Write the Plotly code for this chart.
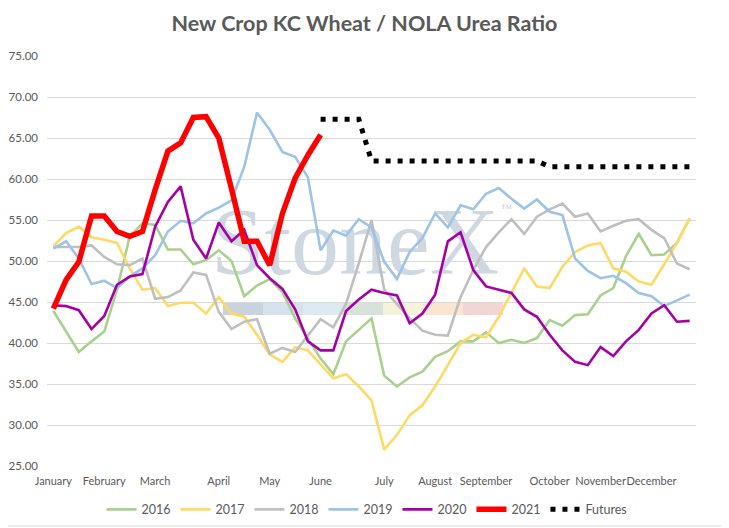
import plotly.graph_objects as go

# weekly points, Jan -> Dec (51 weeks)
months = ['January', 'February', 'March', 'April', 'May', 'June', 'July',
          'August', 'September', 'October', 'November', 'December']
month_week = [0, 4, 8, 13, 17, 21, 26, 30, 34, 39, 43, 47]

y2016 = [43.9, 41.4, 38.9, 40.2, 41.4, 46.5, 53.0, 54.6, 54.4, 51.4, 51.4, 49.6, 50.1, 51.3, 50.0,
         45.7, 47.0, 47.8, 46.2, 43.0, 40.5, 38.1, 36.2, 40.2, 41.6, 43.0, 36.0, 34.7, 35.8, 36.5,
         38.3, 39.0, 40.2, 40.2, 41.3, 40.0, 40.4, 40.0, 40.6, 42.8, 42.1, 43.4, 43.5, 45.8, 46.7,
         50.6, 53.3, 50.7, 50.8, 52.2, 55.2]
y2017 = [51.8, 53.4, 54.2, 52.9, 52.6, 52.2, 49.1, 46.5, 46.7, 44.5, 44.9, 44.9, 43.6, 45.6, 43.6,
         43.2, 41.0, 38.6, 37.7, 39.5, 39.1, 37.4, 35.7, 36.2, 34.7, 33.0, 27.0, 28.8, 31.2, 32.4,
         34.7, 37.3, 40.0, 41.0, 40.7, 43.2, 46.1, 49.1, 46.9, 46.7, 49.3, 51.1, 51.9, 52.2, 49.1,
         48.7, 47.5, 47.1, 49.6, 52.2, 55.2]
y2018 = [51.7, 51.7, 51.7, 51.9, 50.5, 49.6, 49.5, 50.3, 45.4, 45.6, 46.4, 48.6, 48.3, 43.8, 41.7,
         42.6, 42.9, 38.7, 39.4, 38.9, 40.9, 42.9, 41.9, 44.8, 49.7, 55.0, 46.5, 44.8, 43.0, 41.5,
         41.0, 40.9, 45.6, 48.9, 51.7, 53.5, 55.1, 53.3, 55.4, 56.3, 57.0, 55.4, 55.8, 53.6, 54.3,
         54.9, 55.1, 53.8, 52.8, 49.7, 49.0]
y2019 = [51.5, 52.4, 50.3, 47.2, 47.6, 46.7, 48.1, 49.1, 50.7, 53.6, 54.9, 54.6, 55.8, 56.5, 57.4,
         61.5, 68.1, 66.0, 63.3, 62.7, 60.2, 51.3, 53.7, 53.1, 55.1, 54.1, 49.9, 47.8, 51.1, 52.8,
         55.8, 54.1, 56.8, 56.3, 58.2, 58.9, 57.6, 56.4, 57.5, 56.0, 55.6, 50.3, 48.8, 47.9, 48.2,
         47.3, 46.1, 45.7, 44.5, 45.2, 45.9]
y2020 = [44.6, 44.5, 44.0, 41.7, 43.3, 47.1, 48.1, 48.4, 54.2, 57.2, 59.1, 52.6, 50.3, 54.7, 52.4,
         53.8, 49.5, 47.9, 46.6, 44.1, 40.2, 39.1, 39.1, 43.9, 45.3, 46.5, 46.1, 45.8, 42.4, 43.6,
         45.9, 52.4, 53.5, 48.9, 46.9, 46.5, 46.1, 44.1, 43.2, 41.0, 39.1, 37.7, 37.3, 39.5, 38.4,
         40.2, 41.6, 43.6, 44.6, 42.6, 42.7]
y2021 = [44.2, 47.7, 49.9, 55.5, 55.5, 53.6, 53.0, 53.6, 58.7, 63.4, 64.4, 67.5, 67.6, 65.0, 58.8,
         52.4, 52.4, 49.5, 55.8, 60.1, 62.9, 65.4]
futures_start = 21
futures = [67.3, 67.3, 67.3, 67.3, 62.2, 62.2, 62.2, 62.2, 62.2, 62.2, 62.2, 62.2, 62.2, 62.2,
           62.2, 62.2, 62.2, 62.2, 61.5, 61.5, 61.5, 61.5, 61.5, 61.5, 61.5, 61.5, 61.5, 61.5,
           61.5, 61.5]

series = [('2016', y2016, '#A9D18E'),
          ('2017', y2017, '#FFD966'),
          ('2018', y2018, '#BFBFBF'),
          ('2019', y2019, '#9DC3E6'),
          ('2020', y2020, '#A500A5')]

fig = go.Figure()

# StoneX watermark sits under the lines
fig.add_trace(go.Scatter(x=[23.7, 35.6], y=[51.3, 56.3], mode='text', text=['StoneX', '™'],
                         textfont=dict(family='Liberation Serif', size=[96, 11],
                                       color=['#CFD7E1', '#C4CDD8']),
                         showlegend=False, hoverinfo='skip'))

for name, ys, col in series:
    fig.add_trace(go.Scatter(x=list(range(len(ys))), y=ys, name=name, mode='lines',
                             line=dict(color=col, width=2.6), hoverinfo='skip'))

fig.add_trace(go.Scatter(x=list(range(len(y2021))), y=y2021, name='2021', mode='lines',
                         line=dict(color='#FF0000', width=5.5)))
fig.add_trace(go.Scatter(x=list(range(futures_start, futures_start + len(futures))), y=futures,
                         name='Futures', mode='lines',
                         line=dict(color='black', width=5, dash='5px,7px')))

# coloured bar of the logo
band_cols = ['#C9D3DE', '#D6E2EE', '#DEE9F2', '#D6E2DA', '#F6F3DA', '#FAE6D0', '#F3D5D6']
for i, c in enumerate(band_cols):
    x0 = 223 + 40 * i
    fig.add_shape(type='rect', xref='paper', yref='paper', layer='below', line_width=0,
                  fillcolor=c, x0=(x0 - 47) / 649, x1=(x0 + 40 - 47) / 649,
                  y0=(466 - 315) / 410, y1=(466 - 302) / 410)

# chart border (page is offset 8px by the body margin, so only right/bottom edges show)
fig.add_shape(type='rect', xref='paper', yref='paper', line=dict(color='#D9D9D9', width=1),
              x0=(1 - 47) / 649, x1=(727 - 47) / 649, y0=(466 - 526) / 410, y1=(466 - 1) / 410)

fig.update_layout(
    width=729, height=528,
    margin=dict(l=39, r=41, t=48, b=70, autoexpand=False),
    paper_bgcolor='white', plot_bgcolor='white',
    font=dict(family='Lato', size=12, color='#595959'),
    title=dict(text='<b>New Crop KC Wheat / NOLA Urea Ratio</b>', x=0.489, xanchor='center',
               y=0.9716, yanchor='middle', font=dict(size=21.5, color='#595959')),
    xaxis=dict(range=[-0.5, 50.5], tickvals=month_week, ticktext=months, showgrid=False,
               zeroline=False, showline=False, ticks='', tickangle=0, automargin=False,
               ticklabelstandoff=7, tickfont=dict(size=11)),
    yaxis=dict(range=[25, 75], dtick=5, tickformat='.2f', gridcolor='#D9D9D9', gridwidth=1,
               zeroline=False, showline=False, ticks='', ticklabelstandoff=8, automargin=False,
               tickfont=dict(size=11.5)),
    legend=dict(orientation='h', x=0.493, xanchor='center', y=-0.07, yanchor='top',
                font=dict(size=12.5), traceorder='normal'),
    showlegend=True,
)

fig.write_html('out.html')
